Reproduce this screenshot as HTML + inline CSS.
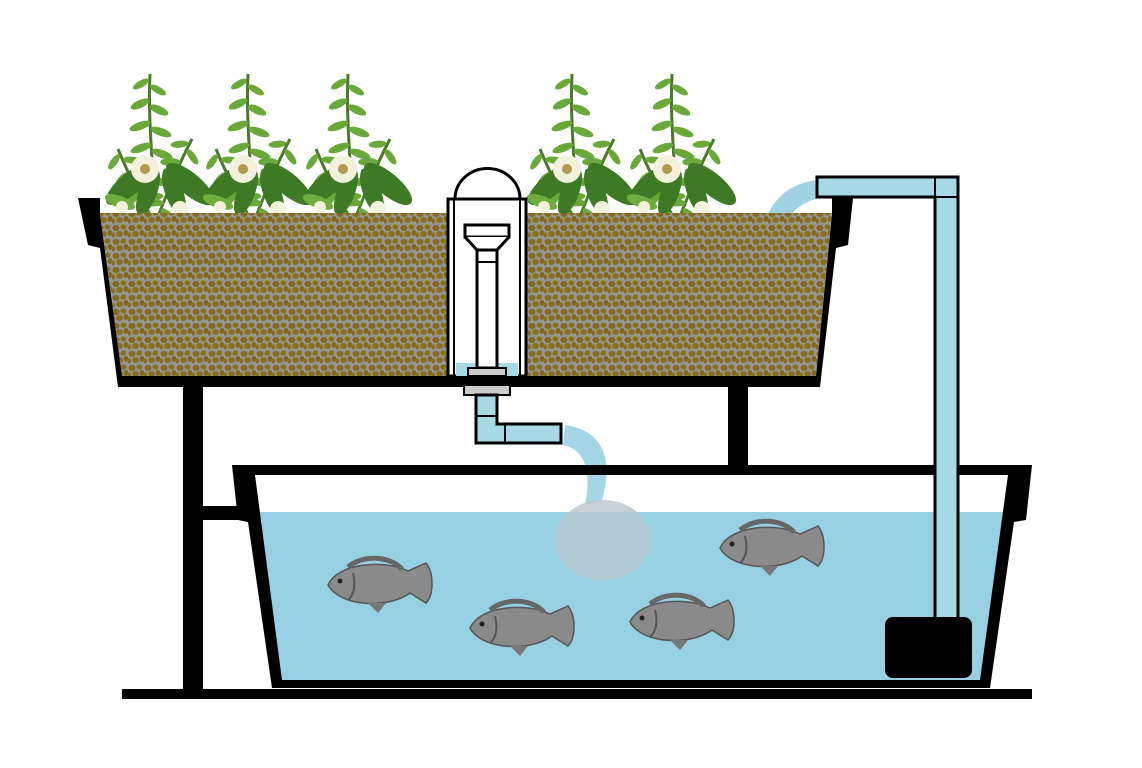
<!DOCTYPE html>
<html><head><meta charset="utf-8"><style>html,body{margin:0;padding:0;background:#fff}svg{display:block}</style></head>
<body>
<svg width="1142" height="768" viewBox="0 0 1142 768" xmlns="http://www.w3.org/2000/svg">
<defs>
<pattern id="grav" width="16" height="14" patternUnits="userSpaceOnUse">
<rect width="16" height="14" fill="#959892"/>
<ellipse cx="4" cy="4" rx="3.6" ry="3" fill="#86691c"/>
<ellipse cx="11.5" cy="3" rx="3" ry="2.6" fill="#8a6e20"/>
<ellipse cx="14" cy="9" rx="2.4" ry="3" fill="#86691c"/>
<ellipse cx="7.5" cy="10" rx="3.5" ry="3" fill="#8a6e20"/>
<ellipse cx="1" cy="11" rx="2" ry="2.6" fill="#86691c"/>
</pattern>
<g id="fern">
<path d="M0,0 C-2,40 2,80 4,120" stroke="#4a7a2a" stroke-width="3" fill="none"/>
<g fill="#6aa83a">
<ellipse cx="-9" cy="10" rx="9" ry="3.5" transform="rotate(-30 -9 10)"/>
<ellipse cx="8" cy="16" rx="9" ry="3.5" transform="rotate(30 8 16)"/>
<ellipse cx="-10" cy="30" rx="10" ry="4" transform="rotate(-25 -10 30)"/>
<ellipse cx="9" cy="36" rx="10" ry="4" transform="rotate(25 9 36)"/>
<ellipse cx="-10" cy="52" rx="11" ry="4" transform="rotate(-20 -10 52)"/>
<ellipse cx="11" cy="58" rx="11" ry="4" transform="rotate(20 11 58)"/>
<ellipse cx="-9" cy="74" rx="11" ry="4" transform="rotate(-20 -9 74)"/>
<ellipse cx="12" cy="80" rx="11" ry="4" transform="rotate(20 12 80)"/>
</g>
</g>
<g id="plant">
<use href="#fern" x="-10" y="0"/>
<use href="#fern" x="32" y="65" transform="rotate(25 32 65)"/>
<use href="#fern" x="-42" y="75" transform="rotate(-25 -42 75)"/>
<g fill="#3e7a26">
<ellipse cx="-30" cy="110" rx="30" ry="11" transform="rotate(-40 -30 110)"/>
<ellipse cx="30" cy="110" rx="30" ry="11" transform="rotate(40 30 110)"/>
<ellipse cx="-12" cy="118" rx="25" ry="9" transform="rotate(-70 -12 118)"/>
<ellipse cx="14" cy="118" rx="25" ry="9" transform="rotate(70 14 118)"/>
<ellipse cx="-40" cy="128" rx="16" ry="6" transform="rotate(20 -40 128)" fill="#6fae3e"/>
</g>
<circle cx="-15" cy="95" r="14" fill="#f3f0dc"/><circle cx="-15" cy="95" r="5" fill="#b39a4a"/>
<circle cx="20" cy="135" r="8" fill="#f3f0dc"/><circle cx="-38" cy="133" r="6" fill="#f3f0dc"/>
</g>
<g id="fish">
<path d="M-50,0 C-40,-22 5,-26 30,-14 L48,-22 C56,-12 56,10 48,18 L32,8 C10,24 -38,22 -50,0 Z" fill="#8a8a8a" stroke="#555" stroke-width="1.5"/>
<path d="M-30,-18 C-15,-30 10,-30 24,-16" stroke="#666" stroke-width="5" fill="none"/>
<path d="M-10,18 L0,28 L8,18" fill="#777"/>
<circle cx="-38" cy="-4" r="2.5" fill="#222"/>
<path d="M-25,-12 C-22,0 -24,10 -30,15" stroke="#555" stroke-width="2" fill="none"/>
</g>
</defs>

<use href="#plant" x="160" y="74"/>
<use href="#plant" x="258" y="74"/>
<use href="#plant" x="358" y="74"/>
<use href="#plant" x="582" y="74"/>
<use href="#plant" x="682" y="74"/>

<path d="M768,214 C778,193 795,183 817,180 L818,198 C805,202 796,208 792,214 Z" fill="#9fd3e4"/>

<polygon points="100,213 832,213 816,376 122,376" fill="url(#grav)"/>
<path d="M78,198 L100,198 L100,214 L122,376 L816,376 L832,214 L832,198 L853,198 L848,245 L836,248 L820,387 L118,387 L100,248 L88,245 Z" fill="#000"/>

<rect x="183" y="387" width="20" height="305" fill="#000"/>
<rect x="728" y="387" width="20" height="82" fill="#000"/>
<rect x="200" y="506" width="50" height="14" fill="#000"/>

<path d="M455,199 A32,30 0 0 1 520,199" fill="#fff" stroke="#000" stroke-width="3"/>
<rect x="448" y="199" width="78" height="177" fill="#fff" stroke="#000" stroke-width="3"/>
<line x1="454" y1="199" x2="454" y2="376" stroke="#000" stroke-width="2"/>
<line x1="520" y1="199" x2="520" y2="376" stroke="#000" stroke-width="2"/>
<rect x="456" y="363" width="62" height="13" fill="#a6d8e6"/>
<rect x="465" y="225" width="44" height="12" fill="#fff" stroke="#000" stroke-width="3"/>
<path d="M465,237 L477,250 L497,250 L509,237" fill="#fff" stroke="#000" stroke-width="3"/>
<rect x="477" y="250" width="20" height="118" fill="#fff" stroke="#000" stroke-width="3"/>
<line x1="477" y1="262" x2="497" y2="262" stroke="#000" stroke-width="2"/>
<rect x="468" y="368" width="38" height="8" fill="#ccc" stroke="#000" stroke-width="2"/>
<rect x="464" y="385" width="46" height="10" fill="#ccc" stroke="#000" stroke-width="2"/>
<path d="M476,395 L497,395 L497,424 L561,424 L561,443 L476,443 Z" fill="#a6d8e6" stroke="#000" stroke-width="3"/>
<line x1="476" y1="416" x2="497" y2="416" stroke="#000" stroke-width="2"/>
<line x1="505" y1="424" x2="505" y2="443" stroke="#000" stroke-width="2"/>

<polygon points="258,512 1005,512 980,684 282,684" fill="#98d0e3"/>
<path d="M565,425 C600,430 615,455 602,500 L585,505 C592,470 585,450 563,445 Z" fill="#a3d5e6"/>
<ellipse cx="603" cy="540" rx="48" ry="40" fill="#b6c6cc" opacity="0.8"/>
<path d="M232,465 L1032,465 L1026,520 L1014,522 L990,688 L272,688 L248,522 L238,520 Z M255,475 L282,680 L980,680 L1008,475 Z" fill="#000" fill-rule="evenodd"/>
<rect x="122" y="689" width="910" height="10" fill="#000"/>

<path d="M817,177 L958,177 L958,625 L935,625 L935,197 L817,197 Z" fill="#a6d8e6" stroke="#000" stroke-width="3"/>
<line x1="935" y1="177" x2="935" y2="197" stroke="#000" stroke-width="2"/>
<line x1="935" y1="197" x2="958" y2="197" stroke="#000" stroke-width="2"/>
<rect x="885" y="617" width="87" height="61" rx="8" fill="#000"/>

<use href="#fish" x="378" y="585"/>
<use href="#fish" x="520" y="628"/>
<use href="#fish" x="680" y="622"/>
<use href="#fish" x="770" y="548"/>
</svg>
</body></html>
